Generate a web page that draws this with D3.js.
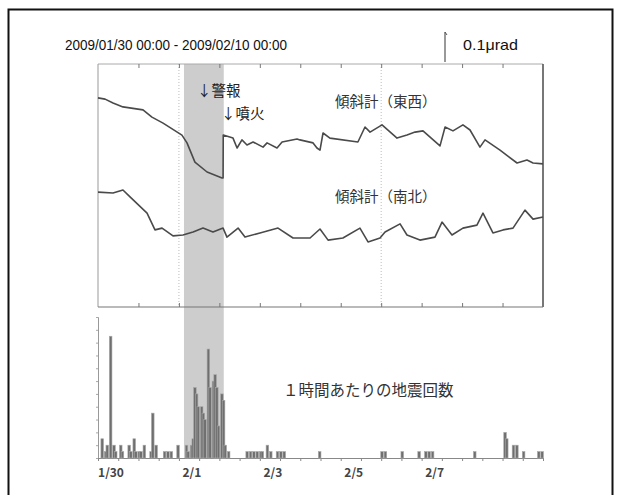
<!DOCTYPE html>
<html><head><meta charset="utf-8">
<script src="https://cdn.jsdelivr.net/npm/d3@7/dist/d3.min.js"></script>
<style>html,body{margin:0;padding:0;background:#fff;}svg{display:block;}</style>
</head><body>
<svg id="c" width="622" height="495"></svg>
<script>
// ---- data (time in hours from 2009/01/30 00:00) ----
const dayLabels = ["1/30", "2/1", "2/3", "2/5", "2/7"];
const dayLabelDays = [0, 2, 4, 6, 8];
const dottedDays = [2, 7];
const shadeHours = [51, 74.6];

const ewHours = [0,4.2,8.9,14.8,26.7,32,38.6,49.8,52.8,57.5,64.7,73.6,74.2,74.3,80.1,82.5,85.4,88.4,92,97.9,100.3,106.2,109.2,118.1,119.8,127.6,129.9,131.7,133.5,137.6,154.2,158.4,161.4,168.5,177.4,183.3,188.1,192.8,202.9,205.9,210.6,216.5,220.7,226.6,229.6,238.5,248.6,254.5,258.1,264];
const ewValues = [0.697,0.693,0.680,0.667,0.657,0.633,0.613,0.573,0.547,0.483,0.450,0.430,0.430,0.573,0.563,0.530,0.557,0.540,0.550,0.533,0.547,0.530,0.550,0.560,0.557,0.547,0.530,0.523,0.580,0.563,0.550,0.600,0.583,0.607,0.563,0.573,0.583,0.587,0.537,0.600,0.587,0.607,0.590,0.533,0.557,0.523,0.480,0.490,0.480,0.477];

const nsHours = [0,8.9,14.8,19,29.1,33.8,38,44.5,50.4,56.4,62.3,68.2,74.2,76.5,83.1,87.2,96.1,106.8,115.7,125.8,131.7,136.5,145.3,155.4,160.2,167.3,170.3,179.2,183.3,191,199.9,204.1,210,216.5,224.8,228.4,234.3,240.3,246.2,253.3,258.1,264];
const nsValues = [0.383,0.380,0.390,0.367,0.313,0.257,0.263,0.237,0.240,0.250,0.263,0.250,0.263,0.233,0.263,0.233,0.247,0.263,0.230,0.230,0.260,0.223,0.230,0.263,0.217,0.230,0.250,0.277,0.240,0.223,0.233,0.283,0.240,0.263,0.273,0.313,0.247,0.257,0.263,0.323,0.293,0.300];

const quakeHours = [2,4,5,7,9,10,13,14,18,19,21,22,24,25,27,31,32,34,39,41,43,47,52,53,55,56,57,58,59,61,62,63,65,66,68,69,70,71,73,74,75,77,88,90,92,94,96,97,100,102,106,108,110,131,168,170,180,190,194,196,198,223,241,242,246,248,252,261,263];
const quakeCounts = [3,1,2,19,2,1,2,1,2,1,3,1,1,1,2,1,7,2,1,1,1,2,2,1,2,3,11,10,8,8,7,6,17,11,12,13,11,5,10,9,2,1,1,1,1,1,1,1,2,1,1,1,1,1,1,1,1,1,1,1,1,1,4,3,2,2,1,1,1];

const titleText = "2009/01/30 00:00 - 2009/02/10 00:00";
const scaleText = "0.1μrad";
const labelEW = "傾斜計（東西）";
const labelNS = "傾斜計（南北）";
const labelWarn = "↓警報";
const labelErupt = "↓噴火";
const labelQuake = "１時間あたりの地震回数";

// ---- layout ----
const svg = d3.select("#c");
const X0 = 98, X1 = 543;
const UT = 64, UB = 307;   // upper panel
const LT = 317, LB = 458;  // lower panel

const x = d3.scaleLinear().domain([0, 264]).range([X0, X1]);
const yTilt = d3.scaleLinear().domain([0, 0.81]).range([UB, UT]);
const yCnt = d3.scaleLinear().domain([0, 22]).range([LB, LT]);

const jp = "'Noto Sans CJK JP', 'Noto Sans CJK SC', sans-serif";
const sans = "'Liberation Sans', Arial, sans-serif";

// outer frame
svg.append("rect").attr("x", 8.5).attr("y", 9.5).attr("width", 604).attr("height", 500)
  .attr("fill", "none").attr("stroke", "#111").attr("stroke-width", 2);

// shaded period
svg.append("rect").attr("x", x(shadeHours[0])).attr("y", UT)
  .attr("width", x(shadeHours[1]) - x(shadeHours[0])).attr("height", LB - UT)
  .attr("fill", "#cdcdcd");

// dotted day lines
svg.selectAll("line.dot").data(dottedDays).join("line")
  .attr("x1", d => x(d * 24)).attr("x2", d => x(d * 24))
  .attr("y1", UT).attr("y2", UB)
  .attr("stroke", "#bbb").attr("stroke-width", 1).attr("stroke-dasharray", "1,2");

// upper box
svg.append("line").attr("x1", X0).attr("x2", X1).attr("y1", UT).attr("y2", UT).attr("stroke", "#aaa");
svg.append("line").attr("x1", X0).attr("x2", X0).attr("y1", UT).attr("y2", UB).attr("stroke", "#999");
svg.append("line").attr("x1", X1).attr("x2", X1).attr("y1", UT).attr("y2", UB).attr("stroke", "#555").attr("stroke-width", 1.6);
svg.append("line").attr("x1", X0).attr("x2", X1).attr("y1", UB).attr("y2", UB).attr("stroke", "#777").attr("stroke-width", 1.2);

const dayTicks = d3.range(1, 11).map(d => d * 24);
const topAxis = svg.append("g").attr("transform", `translate(0,${UT})`)
  .call(d3.axisTop(x).tickValues(dayTicks).tickSize(-4).tickFormat(""));
topAxis.select(".domain").remove();
topAxis.selectAll("line").attr("stroke", "#777");
const botAxis = svg.append("g").attr("transform", `translate(0,${UB})`)
  .call(d3.axisBottom(x).tickValues(dayTicks).tickSize(-4).tickFormat(""));
botAxis.select(".domain").remove();
botAxis.selectAll("line").attr("stroke", "#777");

// tilt lines
const ew = ewHours.map((h, i) => [h, ewValues[i]]);
const ns = nsHours.map((h, i) => [h, nsValues[i]]);
const line = d3.line().x(d => x(d[0])).y(d => yTilt(d[1]));
[ew, ns].forEach(s => {
  svg.append("path").datum(s).attr("d", line)
    .attr("fill", "none").attr("stroke", "#4a4a4a").attr("stroke-width", 1.6)
    .attr("stroke-linejoin", "round");
});

// lower panel axes
const lAxis = svg.append("g").attr("transform", `translate(${X0},0)`)
  .call(d3.axisLeft(yCnt).tickValues(d3.range(0, 23, 2)).tickSize(2).tickFormat(""));
lAxis.select(".domain").attr("stroke", "#999");
lAxis.selectAll("line").attr("stroke", "#aaa");
const bAxis = svg.append("g").attr("transform", `translate(0,${LB})`)
  .call(d3.axisBottom(x).tickValues(d3.range(0, 265, 12)).tickSize(3).tickFormat(""));
bAxis.select(".domain").attr("stroke", "#888");
bAxis.selectAll("line").attr("stroke", "#888");

// bars
const bars = quakeHours.map((h, i) => ({h, c: quakeCounts[i]}));
svg.selectAll("rect.bar").data(bars).join("rect")
  .attr("x", d => x(d.h + 0.5) - 1.3).attr("width", 2.6)
  .attr("y", d => yCnt(d.c)).attr("height", d => LB - yCnt(d.c))
  .attr("fill", "#6f6f6f").attr("stroke", "#a8a8a8").attr("stroke-width", 0.6);

// day labels
svg.selectAll("text.day").data(dayLabels).join("text")
  .attr("x", (d, i) => x(dayLabelDays[i] * 24) + 13).attr("y", 477)
  .attr("text-anchor", "middle").attr("font-family", jp).attr("font-size", 12)
  .attr("font-weight", "bold").attr("fill", "#444").text(d => d);

// texts
svg.append("text").attr("x", 65).attr("y", 50).attr("font-family", sans).attr("font-size", 14.5)
  .attr("textLength", 222).attr("lengthAdjust", "spacingAndGlyphs").attr("fill", "#111").text(titleText);
svg.append("text").attr("x", 463).attr("y", 50).attr("font-family", sans).attr("font-size", 14.5)
  .attr("textLength", 55).attr("lengthAdjust", "spacingAndGlyphs").attr("fill", "#111").text(scaleText);

// scale bar (0.1 μrad)
const sx = 445;
svg.append("line").attr("x1", sx).attr("x2", sx).attr("y1", yTilt(0.81) - 32).attr("y2", yTilt(0.81) - 2)
  .attr("stroke", "#555").attr("stroke-width", 1.2);
svg.append("path").attr("d", `M${sx},${UT - 32} l2,3`).attr("stroke", "#555").attr("fill", "none");

svg.append("text").attr("x", 335).attr("y", 107).attr("font-family", jp).attr("font-size", 14.5).attr("fill", "#333").text(labelEW);
svg.append("text").attr("x", 335).attr("y", 202).attr("font-family", jp).attr("font-size", 14.5).attr("fill", "#333").text(labelNS);
svg.append("text").attr("x", 197).attr("y", 96).attr("font-family", jp).attr("font-size", 14.5).attr("fill", "#222").text(labelWarn);
svg.append("text").attr("x", 221).attr("y", 119).attr("font-family", jp).attr("font-size", 14.5).attr("fill", "#222").text(labelErupt);
svg.append("text").attr("x", 283).attr("y", 396).attr("font-family", jp).attr("font-size", 15.5).attr("fill", "#333").text(labelQuake);
</script>
</body></html>
